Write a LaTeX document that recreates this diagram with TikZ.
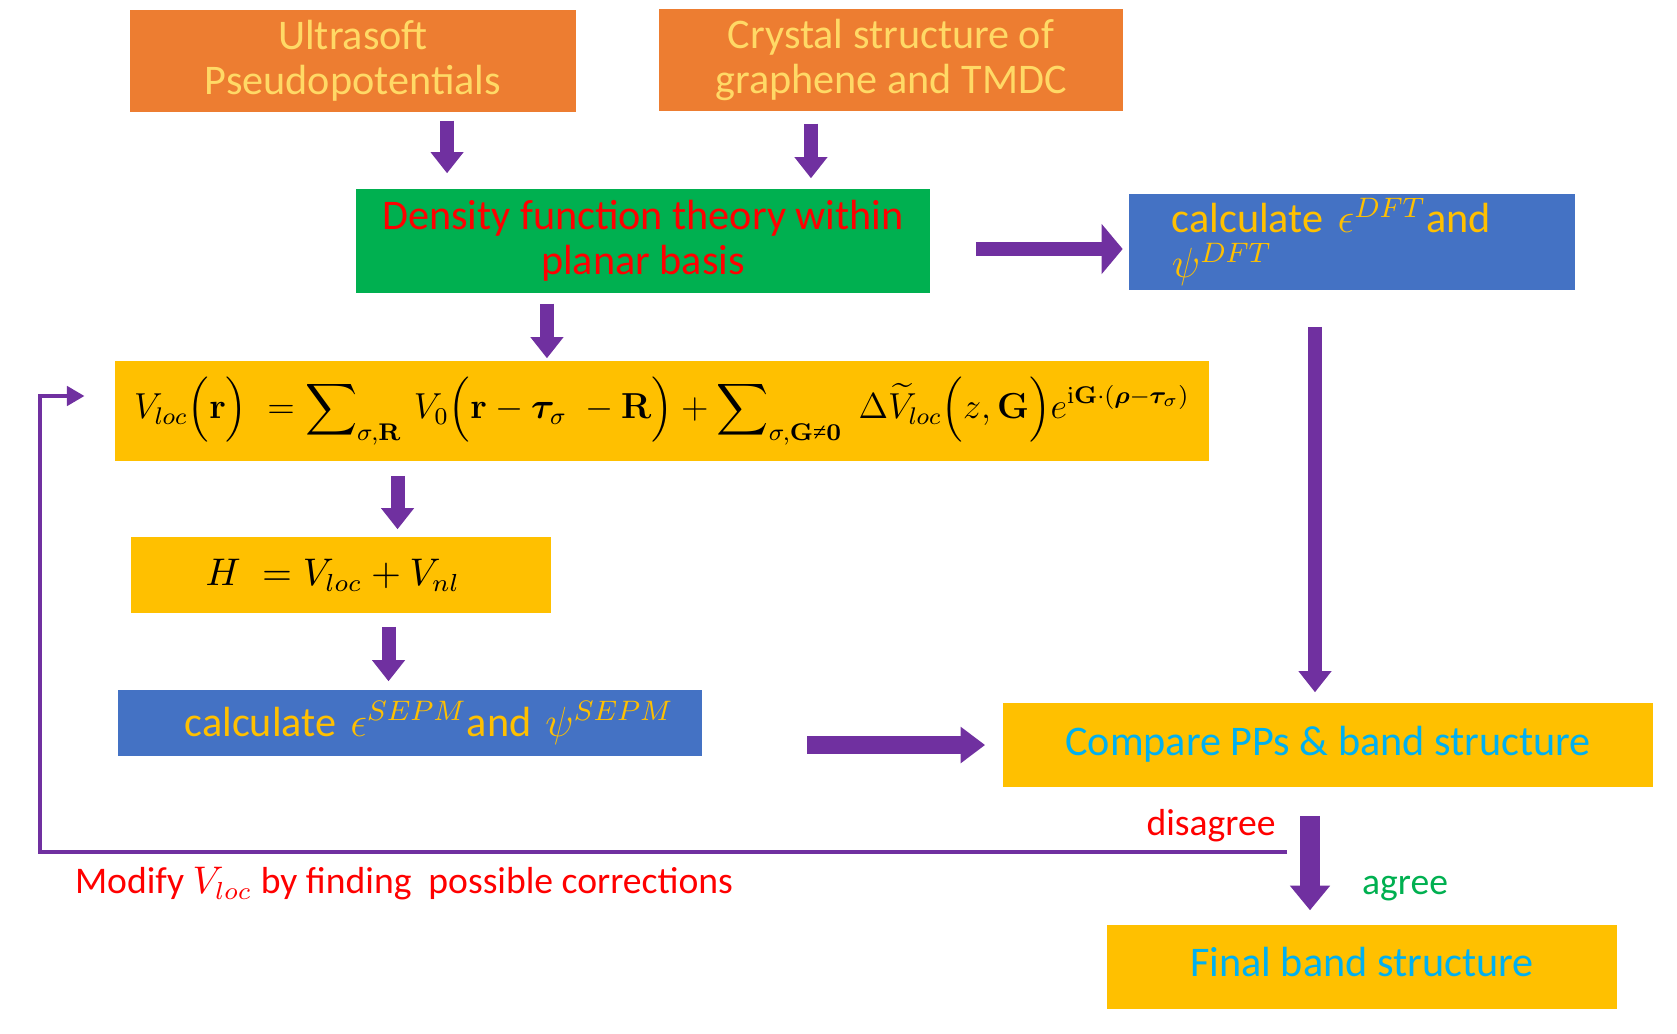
\documentclass[tikz,border=0pt]{standalone}
\usepackage{amsmath}
\usepackage{amssymb}
\usepackage{bm}
\usepackage{graphicx}
\usepackage[no-math]{fontspec}
\setmainfont{Carlito}
\newfontfamily\relfont{Liberation Serif}
\usetikzlibrary{arrows.meta,calc}

\definecolor{boxorange}{HTML}{ED7D31}
\definecolor{boxgreen}{HTML}{00B050}
\definecolor{boxblue}{HTML}{4472C4}
\definecolor{boxyellow}{HTML}{FFC000}
\definecolor{txtpale}{HTML}{FFD966}
\definecolor{txtcyan}{HTML}{00B0F0}
\definecolor{arrpurple}{HTML}{7030A0}

\begin{document}
\begin{tikzpicture}[x=0.01cm,y=-0.01cm,
  box/.style={rectangle,inner sep=0pt,font=\fontsize{12}{12.8}\selectfont,align=center},
  orangebox/.style={box,fill=boxorange,text=txtpale},
  greenbox/.style={box,fill=boxgreen,text=red},
  bluebox/.style={box,fill=boxblue,text=boxyellow},
  yellowbox/.style={box,fill=boxyellow},
  bigarrow/.style={draw=arrpurple,line width=4pt,-{Triangle[length=6pt,width=9pt]}},
  looparrow/.style={draw=arrpurple,line width=1.1pt,-{Triangle[length=5pt,width=5.5pt]}},
  note/.style={font=\fontsize{10.7}{12}\selectfont}]
\useasboundingbox (0,0) rectangle (1677,1033);

% Inputs
\node[orangebox,minimum width=4.46cm,minimum height=1.02cm] (ultra) at (353,61) {Ultrasoft\\Pseudopotentials};
\node[orangebox,minimum width=4.64cm,minimum height=1.02cm] (crystal) at (891,60) {Crystal structure of\\graphene and TMDC};

% DFT
\node[greenbox,minimum width=5.74cm,minimum height=1.04cm] (dft) at (643,241) {Density function theory within\\planar basis};
\node[bluebox,minimum height=0.96cm,text width=3.6cm,inner xsep=0.425cm,align=left] (dftcalc) at (1352,242) {calculate $\epsilon^{DFT}$and\\$\psi^{DFT}$};

% Local potential and Hamiltonian
\node[yellowbox,minimum width=10.93cm,minimum height=1.0cm] (vloc) at (662,411) {\resizebox{10.55cm}{!}{$V_{loc}\Bigl(\mathbf{r}\Bigr)\;=\displaystyle\sum\nolimits_{\sigma,\mathbf{R}}\, V_0\Bigl(\mathbf{r}-\bm{\tau}_\sigma\;-\mathbf{R}\Bigr)+\displaystyle\sum\nolimits_{\sigma,\mathbf{G}\mathrel{\text{\relfont ≠}}\mathbf{0}}\;\Delta\widetilde{V}_{loc}\Bigl(z,\mathbf{G}\Bigr)e^{\mathrm{i}\mathbf{G}\cdot(\bm{\rho}-\bm{\tau}_\sigma)}$}};
\node[yellowbox,minimum width=4.19cm,minimum height=0.76cm] (ham) at (341,575) {\fontsize{10.5}{13}\selectfont$H\;=V_{loc}+V_{nl}$\hspace{0.16cm}};
\node[bluebox,minimum height=0.66cm,text width=5.27cm,inner xsep=0.28cm,align=right] (sepm) at (410,723) {\raisebox{0.06cm}{calculate $\epsilon^{SEPM}$and $\psi^{SEPM}$}};

% Comparison and result
\node[yellowbox,text=txtcyan,minimum width=6.5cm,minimum height=0.84cm] (compare) at (1328,745) {\raisebox{0.08cm}{Compare PPs \& band structure}};
\node[yellowbox,text=txtcyan,minimum width=5.1cm,minimum height=0.84cm] (final) at (1362,967) {\raisebox{0.1cm}{Final band structure}};

% Arrows
\draw[bigarrow,shorten <=0.08cm,shorten >=0.15cm] ([xshift=0.94cm]ultra.south) -- ([xshift=0.94cm]ultra.south |- dft.north);
\draw[bigarrow,shorten <=0.12cm,shorten >=0.10cm] ([xshift=-0.8cm]crystal.south) -- ([xshift=-0.8cm]crystal.south |- dft.north);
\draw[bigarrow,shorten <=0.10cm,shorten >=0.02cm] ([xshift=-0.96cm]dft.south) -- ([xshift=-0.96cm]dft.south |- vloc.north);
\draw[bigarrow,-{Triangle[length=6pt,width=14pt]},shorten <=0.45cm,shorten >=0.06cm] ([yshift=-0.08cm]dft.east) -- ([yshift=-0.08cm]dft.east -| dftcalc.west);
\draw[bigarrow,shorten <=0.36cm,shorten >=0.10cm] ([xshift=-0.37cm]dftcalc.south) -- ([xshift=-0.37cm]dftcalc.south |- compare.north);
\draw[bigarrow,shorten <=0.14cm,shorten >=0.07cm] ([xshift=0.565cm]ham.north |- vloc.south) -- ([xshift=0.565cm]ham.north);
\draw[bigarrow,shorten <=0.13cm,shorten >=0.08cm] ([xshift=0.475cm]ham.south) -- ([xshift=0.475cm]ham.south |- sepm.north);
\draw[bigarrow,line width=5pt,-{Triangle[length=7pt,width=10pt]},shorten <=1.05cm,shorten >=0.17cm] (sepm.east |- compare.west) -- (compare.west);
\draw[bigarrow,line width=5.5pt,-{Triangle[length=7pt,width=11pt]},shorten <=0.28cm,shorten >=0.14cm] ([xshift=-0.18cm]compare.south) -- ([xshift=-0.18cm]compare.south |- final.north);

% Feedback loop
\coordinate (fbstart) at (1287,852);
\coordinate (fbturn) at (40,852);
\draw[looparrow,shorten >=0.3cm] (fbstart) -- (fbturn) |- ([yshift=0.15cm]vloc.west);

% Labels
\node[note,text=red] (disagree) at (1211,826) {disagree};
\node[note,text=boxgreen] (agree) at (1405,889) {agree};
\node[note,text=red] (modify) at (404,884) {Modify $V_{loc}$ by finding\ \ possible corrections};
\end{tikzpicture}
\end{document}
